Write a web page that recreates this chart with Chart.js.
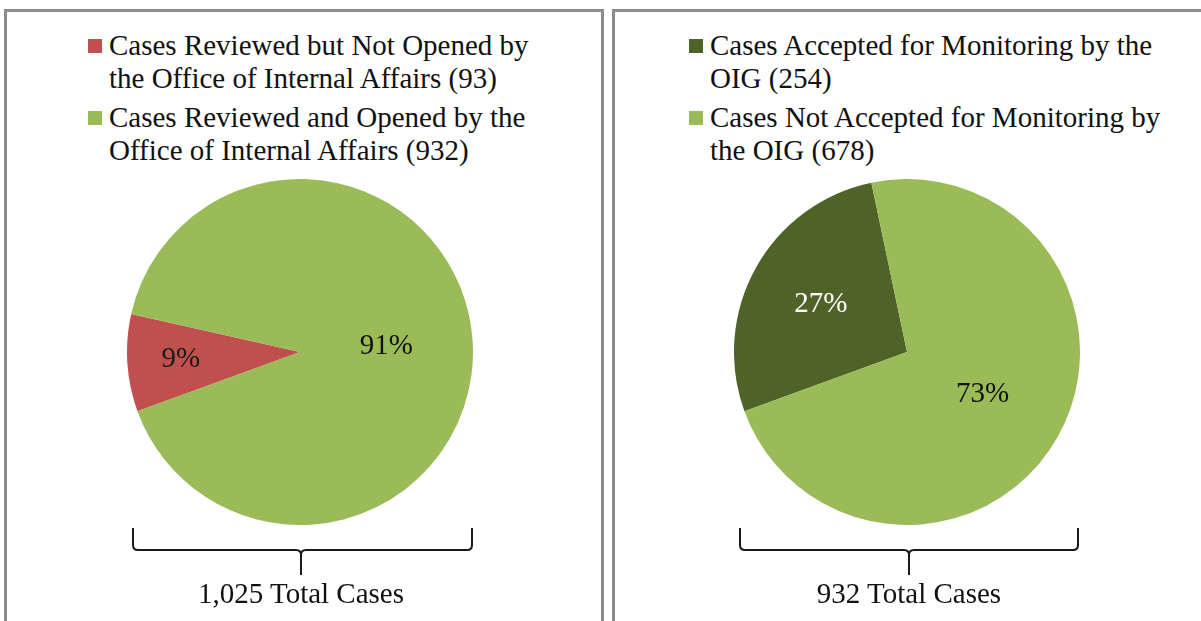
<!DOCTYPE html>
<html>
<head>
<meta charset="utf-8">
<script src="https://cdn.jsdelivr.net/npm/chart.js@4.4.1/dist/chart.umd.min.js"></script>
<style>
  body { margin: 0; width: 1201px; height: 621px; background: #fff; overflow: hidden; position: relative; font-family: "Liberation Serif", "Times New Roman", serif; color: #111; }
  .panel { position: absolute; top: 9px; border: 3px solid #8c8c8c; border-bottom: none; box-sizing: border-box; }
  .legend { position: absolute; top: 29px; font-size: 29px; line-height: 32.5px; }
  .item { position: relative; margin-bottom: 7px; white-space: nowrap; }
  .item .box { position: absolute; left: -21px; top: 10px; width: 14px; height: 14px; }
  canvas { position: absolute; }
  svg { position: absolute; left: 0; top: 0; }
  .total { position: absolute; top: 577px; font-size: 29px; width: 300px; text-align: center; }
</style>
</head>
<body>
<div class="panel" style="left:4px; width:600px; height:620px;"></div>
<div class="panel" style="left:612px; width:600px; height:620px;"></div>

<div class="legend" id="legendLeft" style="left:109px;"></div>
<div class="legend" id="legendRight" style="left:710px;"></div>

<canvas id="pieLeft" width="346" height="346" style="left:127px; top:179px;"></canvas>
<canvas id="pieRight" width="346" height="346" style="left:734px; top:179px;"></canvas>

<svg width="1201" height="621">
  <g fill="none" stroke="#1a1a1a" stroke-width="2">
    <path d="M133,528 L133,545 Q133,550 138,550 L296,550 Q301,550 301,555 L301,575 M301,555 Q301,550 306,550 L467,550 Q472,550 472,545 L472,528"/>
    <path d="M740,528 L740,545 Q740,550 745,550 L904,550 Q909,550 909,555 L909,575 M909,555 Q909,550 914,550 L1073,550 Q1078,550 1078,545 L1078,528"/>
  </g>
</svg>

<div class="total" id="totalLeft" style="left:151px;"></div>
<div class="total" id="totalRight" style="left:759px;"></div>

<script>
// left pie: cases reviewed by internal affairs
const leftLabels = [
  ["Cases Reviewed but Not Opened by", "the Office of Internal Affairs (93)"],
  ["Cases Reviewed and Opened by the", "Office of Internal Affairs (932)"]
];
const leftValues = [93, 932];
const leftColors = ["#c0504d", "#9bbb59"];
const leftTextColors = ["#1a1a1a", "#111111"];
const leftTotal = "1,025 Total Cases";

// right pie: opened cases, monitoring by OIG
const rightLabels = [
  ["Cases Accepted for Monitoring by the", "OIG (254)"],
  ["Cases Not Accepted for Monitoring by", "the OIG (678)"]
];
const rightValues = [254, 678];
const rightColors = ["#4f6228", "#9bbb59"];
const rightTextColors = ["#ffffff", "#111111"];
const rightTotal = "932 Total Cases";

function buildLegend(id, labels, colors) {
  const el = document.getElementById(id);
  labels.forEach((lines, i) => {
    const item = document.createElement("div");
    item.className = "item";
    const box = document.createElement("span");
    box.className = "box";
    box.style.background = colors[i];
    item.appendChild(box);
    lines.forEach((line) => {
      const d = document.createElement("div");
      d.textContent = line;
      item.appendChild(d);
    });
    el.appendChild(item);
  });
}

// percent labels placed along each slice's middle angle
const pctLabels = {
  id: "pctLabels",
  afterDatasetsDraw(chart, args, opts) {
    const ctx = chart.ctx;
    const meta = chart.getDatasetMeta(0);
    const data = chart.data.datasets[0].data;
    const total = data.reduce((a, b) => a + b, 0);
    ctx.save();
    ctx.font = "29px 'Liberation Serif', 'Times New Roman', serif";
    ctx.textAlign = "center";
    ctx.textBaseline = "middle";
    meta.data.forEach((arc, i) => {
      const p = arc.getProps(["x", "y", "startAngle", "endAngle", "outerRadius"], true);
      const mid = (p.startAngle + p.endAngle) / 2;
      const r = p.outerRadius * opts.radius[i];
      ctx.fillStyle = opts.colors[i];
      ctx.fillText(Math.round((data[i] / total) * 100) + "%", p.x + Math.cos(mid) * r, p.y + Math.sin(mid) * r);
    });
    ctx.restore();
  }
};

function makePie(id, labels, values, colors, rotation, textColors, radius) {
  return new Chart(document.getElementById(id), {
    type: "pie",
    data: {
      labels: labels.map((l) => l.join(" ")),
      datasets: [{ data: values, backgroundColor: colors, borderWidth: 0 }]
    },
    options: {
      responsive: false,
      animation: false,
      rotation: rotation,
      layout: { padding: 0 },
      plugins: {
        legend: { display: false },
        tooltip: { enabled: false },
        pctLabels: { colors: textColors, radius: radius }
      }
    },
    plugins: [pctLabels]
  });
}

buildLegend("legendLeft", leftLabels, leftColors);
buildLegend("legendRight", rightLabels, rightColors);
document.getElementById("totalLeft").textContent = leftTotal;
document.getElementById("totalRight").textContent = rightTotal;

makePie("pieLeft", leftLabels, leftValues, leftColors, 250, leftTextColors, [0.69, 0.5]);
makePie("pieRight", rightLabels, rightValues, rightColors, 250, rightTextColors, [0.57, 0.5]);
</script>
</body>
</html>
